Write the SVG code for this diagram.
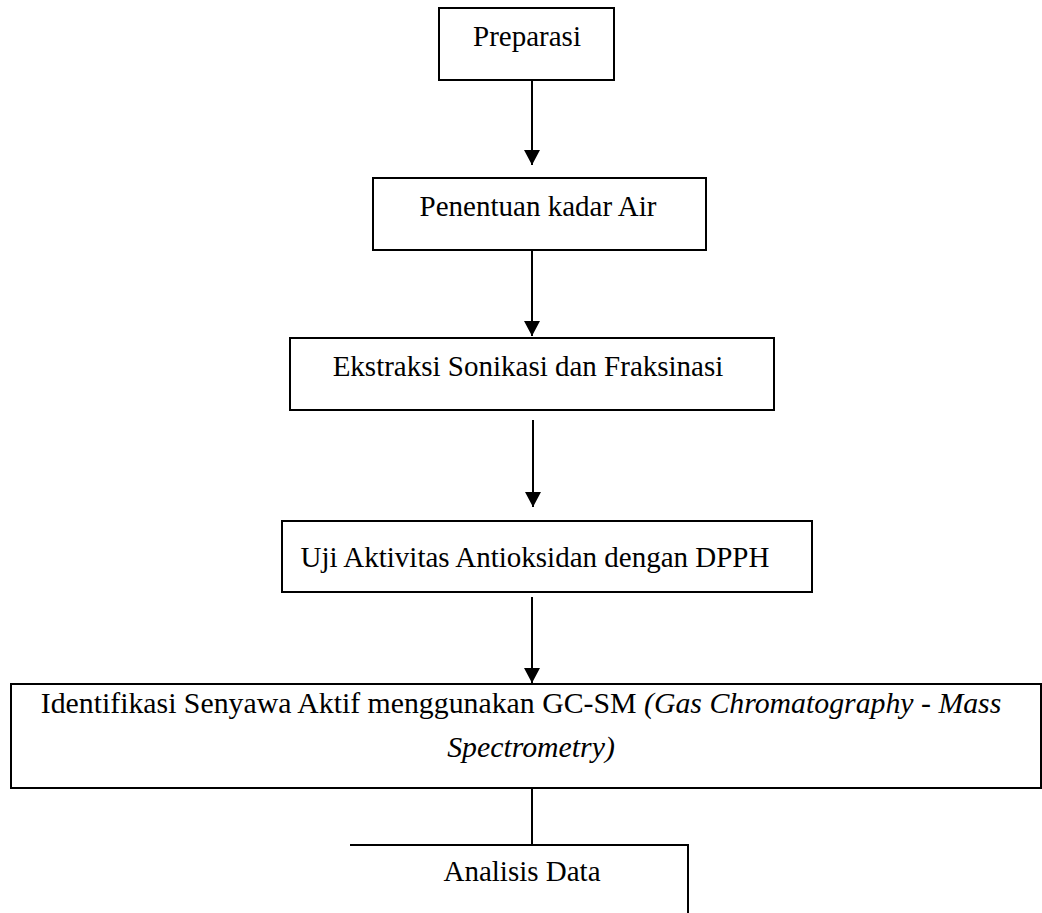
<svg xmlns="http://www.w3.org/2000/svg" width="1042" height="913" viewBox="0 0 1042 913">
<style>
.box{fill:#fff;stroke:#000;stroke-width:2}
.t{font-family:"Liberation Serif","Times New Roman",serif;font-size:29px;fill:#000;text-anchor:middle}
.c{stroke:#000;stroke-width:2;fill:none}
</style>
<defs>
<marker id="arr" markerUnits="userSpaceOnUse" markerWidth="16" markerHeight="16" refX="15" refY="8" orient="auto">
<path d="M0,0 L15,8 L0,16 Z" fill="#000"/>
</marker>
</defs>
<rect width="1042" height="913" fill="#fff"/>
<g id="connectors">
<line class="c" x1="532" y1="80" x2="532" y2="165" marker-end="url(#arr)"/>
<line class="c" x1="532" y1="250" x2="532" y2="336" marker-end="url(#arr)"/>
<line class="c" x1="533" y1="420" x2="533" y2="507" marker-end="url(#arr)"/>
<line class="c" x1="532" y1="597" x2="532" y2="683" marker-end="url(#arr)"/>
<line class="c" x1="532" y1="789" x2="532" y2="844"/>
</g>
<g id="n1">
<rect class="box" x="439" y="8" width="175" height="72"/>
<text class="t" x="527" y="46">Preparasi</text>
</g>
<g id="n2">
<rect class="box" x="373" y="178" width="333" height="72"/>
<text class="t" x="538" y="216">Penentuan kadar Air</text>
</g>
<g id="n3">
<rect class="box" x="290" y="338" width="484" height="72"/>
<text class="t" x="528" y="376">Ekstraksi Sonikasi dan Fraksinasi</text>
</g>
<g id="n4">
<rect class="box" x="282" y="521" width="530" height="71"/>
<text class="t" x="535" y="567">Uji Aktivitas Antioksidan dengan DPPH</text>
</g>
<g id="n5">
<rect class="box" x="11" y="684" width="1030" height="104"/>
<text class="t" x="521" y="713" style="font-size:29.8px">Identifikasi Senyawa Aktif menggunakan GC-SM <tspan font-style="italic">(Gas Chromatography - Mass</tspan></text>
<text class="t" x="531" y="757" style="font-size:29.8px;font-style:italic">Spectrometry)</text>
</g>
<g id="n6">
<path class="c" d="M350,845 L688,845 L688,913"/>
<text class="t" x="522" y="881">Analisis Data</text>
</g>
</svg>
